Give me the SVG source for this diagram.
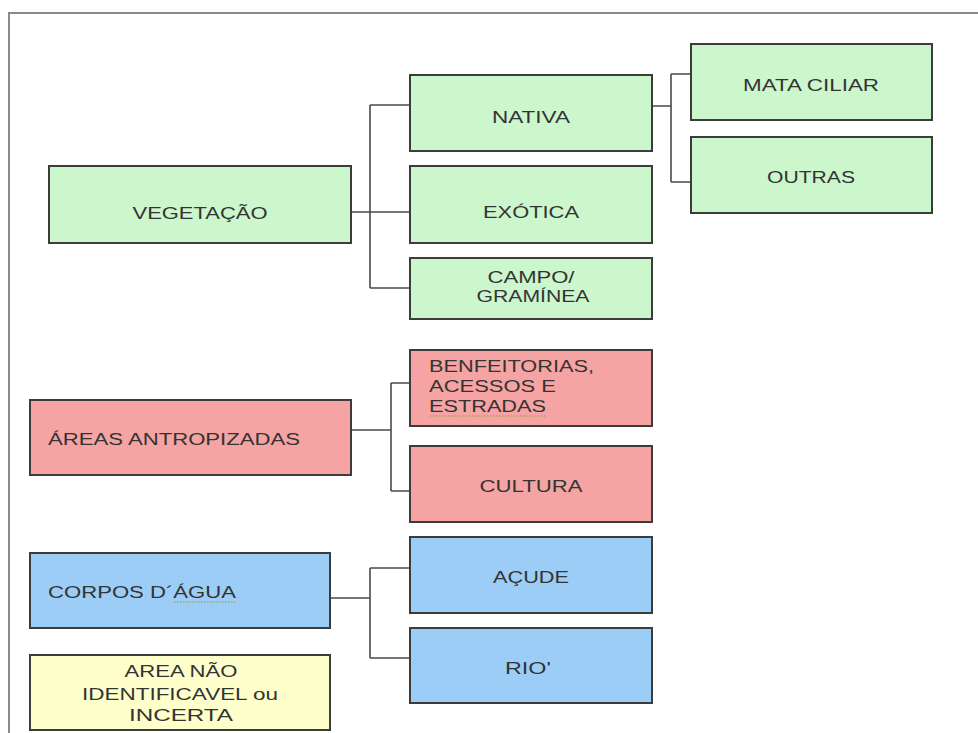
<svg xmlns="http://www.w3.org/2000/svg" width="978" height="733" viewBox="0 0 978 733">
<style>
.box{stroke:#3c3c3c;stroke-width:2}
.g{fill:#ccf6cc}
.r{fill:#f5a3a3}
.b{fill:#9ccdf7}
.y{fill:#ffffcc}
text{font-family:"Liberation Sans",Arial,sans-serif;font-size:16px;fill:#333}
.c{text-anchor:middle}
.ln{fill:none;stroke:#4a4a4a;stroke-width:1.6}
.sq{fill:none;stroke:#9a9a3a;stroke-width:1;stroke-dasharray:1.5 1.5}
</style>
<rect width="978" height="733" fill="#fff"/>
<path d="M9,733 V13 H978" fill="none" stroke="#8a8a8a" stroke-width="2"/>
<g id="connectors">
<path class="ln" d="M351,212 H370 M370,105 V288 M370,105 H410 M370,212 H410 M370,288 H410"/>
<path class="ln" d="M652,106 H671 M671,74 V182 M671,74 H691 M671,182 H691"/>
<path class="ln" d="M351,430 H391" stroke="#8a8a8a"/>
<path class="ln" d="M391,383 V491 M391,383 H410 M391,491 H410"/>
<path class="ln" d="M330,598 H370 M370,568 V658 M370,568 H410 M370,658 H410"/>
</g>
<g id="vegetacao"><rect class="box g" x="49" y="166" width="302" height="77"/><text class="c" x="200" y="219" textLength="135" lengthAdjust="spacingAndGlyphs">VEGETAÇÃO</text></g>
<g id="nativa"><rect class="box g" x="410" y="75" width="242" height="76"/><text class="c" x="531" y="123" textLength="78" lengthAdjust="spacingAndGlyphs">NATIVA</text></g>
<g id="exotica"><rect class="box g" x="410" y="166" width="242" height="77"/><text class="c" x="531" y="218" textLength="96" lengthAdjust="spacingAndGlyphs">EXÓTICA</text></g>
<g id="campo"><rect class="box g" x="410" y="258" width="242" height="61"/><text class="c" x="531" y="283" textLength="87" lengthAdjust="spacingAndGlyphs">CAMPO/</text><text class="c" x="533" y="302" textLength="113" lengthAdjust="spacingAndGlyphs">GRAMÍNEA</text></g>
<g id="mata-ciliar"><rect class="box g" x="691" y="44" width="241" height="76"/><text class="c" x="811" y="91" textLength="136" lengthAdjust="spacingAndGlyphs">MATA CILIAR</text></g>
<g id="outras"><rect class="box g" x="691" y="137" width="241" height="76"/><text class="c" x="811" y="183" textLength="88" lengthAdjust="spacingAndGlyphs">OUTRAS</text></g>
<g id="areas-antropizadas"><rect class="box r" x="30" y="400" width="321" height="75"/><text x="48" y="445" textLength="252" lengthAdjust="spacingAndGlyphs">ÁREAS ANTROPIZADAS</text></g>
<g id="benfeitorias"><rect class="box r" x="410" y="350" width="242" height="76"/><text x="429" y="372" textLength="165" lengthAdjust="spacingAndGlyphs">BENFEITORIAS,</text><text x="429" y="392" textLength="127" lengthAdjust="spacingAndGlyphs">ACESSOS E</text><text x="429" y="412" textLength="117" lengthAdjust="spacingAndGlyphs">ESTRADAS</text><path class="sq" d="M430,416 H546"/></g>
<g id="cultura"><rect class="box r" x="410" y="446" width="242" height="76"/><text class="c" x="531" y="492" textLength="103" lengthAdjust="spacingAndGlyphs">CULTURA</text></g>
<g id="corpos-dagua"><rect class="box b" x="30" y="553" width="300" height="75"/><text x="48" y="598" textLength="188" lengthAdjust="spacingAndGlyphs">CORPOS D´ÁGUA</text><path class="sq" d="M174,602 H236" stroke="#3a9a5a"/></g>
<g id="acude"><rect class="box b" x="410" y="537" width="242" height="76"/><text class="c" x="531" y="583" textLength="76" lengthAdjust="spacingAndGlyphs">AÇUDE</text></g>
<g id="rio"><rect class="box b" x="410" y="628" width="242" height="75"/><text class="c" x="528" y="674" textLength="46" lengthAdjust="spacingAndGlyphs">RIO'</text></g>
<g id="area-nao-identificavel"><rect class="box y" x="30" y="655" width="300" height="75"/><text class="c" x="181" y="677" textLength="113" lengthAdjust="spacingAndGlyphs">AREA NÃO</text><text class="c" x="180" y="700" textLength="196" lengthAdjust="spacingAndGlyphs">IDENTIFICAVEL ou</text><text class="c" x="181" y="721" textLength="104" lengthAdjust="spacingAndGlyphs">INCERTA</text></g>
</svg>
